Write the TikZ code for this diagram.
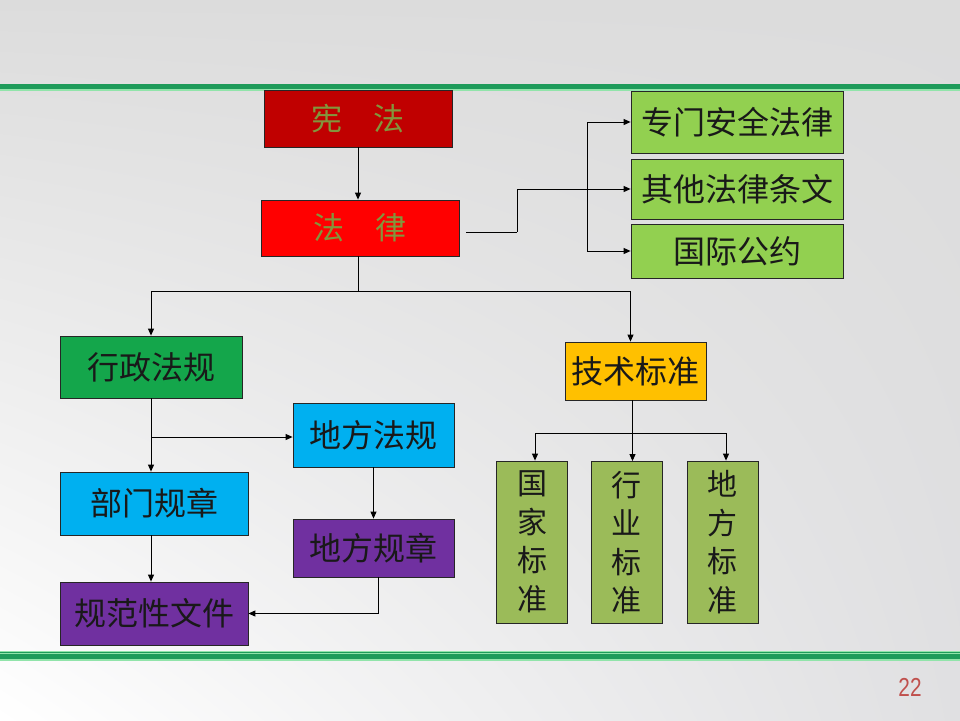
\documentclass[tikz,border=0pt]{standalone}
\usepackage{fontspec}
\newfontfamily\cjk{Noto Sans CJK SC}
\setmainfont{Liberation Sans}
\usetikzlibrary{arrows.meta,calc,shadings}
\definecolor{darkred}{RGB}{192,0,0}
\definecolor{olivetxt}{RGB}{130,150,60}
\definecolor{lgreen}{RGB}{146,208,80}
\definecolor{mgreen}{RGB}{20,166,75}
\definecolor{orng}{RGB}{255,192,0}
\definecolor{cyanb}{RGB}{0,176,240}
\definecolor{purp}{RGB}{112,48,160}
\definecolor{olgreen}{RGB}{155,187,89}
\definecolor{bandgreen}{RGB}{30,155,90}
\definecolor{bandlight}{RGB}{145,228,170}
\definecolor{numred}{RGB}{192,80,77}
\definecolor{bgA}{RGB}{220,220,220}
\definecolor{bgB}{RGB}{224,224,226}
\tikzset{
  box/.style={draw=black!85, line width=0.8pt, inner sep=0pt, anchor=center,
    font=\cjk\fontsize{32}{38}\selectfont, text=black!90},
  vbox/.style={box, align=center, minimum width=71pt, minimum height=162pt,
    fill=olgreen, font=\cjk\fontsize{30}{38.5}\selectfont},
  arr/.style={line width=0.9pt, draw=black, -{Triangle[length=7pt,width=6pt]}},
  ln/.style={line width=0.9pt, draw=black},
}
\begin{document}
\begin{tikzpicture}[x=1pt,y=-1pt]
\useasboundingbox (0,0) rectangle (960,720);
% background
\shade[upper left=bgA, upper right=bgA, lower left=white, lower right=bgB] (0,0) rectangle (960,720);
% bands
\fill[bandgreen] (0,84) rectangle (960,89);
\fill[bandlight] (0,89) rectangle (960,91);
\fill[bandlight] (0,650.5) rectangle (960,653.5);
\fill[bandgreen] (0,651.5) rectangle (960,652.5);
\fill[bandgreen] (0,654) rectangle (960,659);
\fill[bandlight] (0,659) rectangle (960,660.5);
% nodes
\node[box, fill=darkred, text=olivetxt, minimum width=188pt, minimum height=57pt, font=\cjk\fontsize{31}{36}\selectfont] (xf) at (358,118.5) {宪　法};
\node[box, fill=red, text=olivetxt, minimum width=198pt, minimum height=56pt, font=\cjk\fontsize{31}{36}\selectfont] (fl) at (360,228) {法　律};
\node[box, fill=lgreen, minimum width=212pt, minimum height=62pt] (zm) at (737,122) {专门安全法律};
\node[box, fill=lgreen, minimum width=212pt, minimum height=60pt] (qt) at (737,189) {其他法律条文};
\node[box, fill=lgreen, minimum width=212pt, minimum height=54pt] (gj) at (737,251) {国际公约};
\node[box, fill=mgreen, minimum width=182pt, minimum height=62pt] (xz) at (151,367) {行政法规};
\node[box, fill=orng, minimum width=141pt, minimum height=58pt] (js) at (635.5,371) {技术标准};
\node[box, fill=cyanb, minimum width=161pt, minimum height=64pt] (df) at (373.5,435) {地方法规};
\node[box, fill=cyanb, minimum width=188pt, minimum height=63pt] (bm) at (154,503.5) {部门规章};
\node[box, fill=purp, minimum width=161pt, minimum height=58pt] (dg) at (373.5,548) {地方规章};
\node[box, fill=purp, minimum width=188pt, minimum height=63pt] (gf) at (154,613.5) {规范性文件};
\node[vbox] (gb) at (532,542) {国\\家\\标\\准};
\node[vbox] (hy) at (626.5,542.5) {行\\业\\标\\准};
\node[vbox] (db) at (722.5,542) {地\\方\\标\\准};
\node[text=numred, font=\fontsize{26}{28}\selectfont] (pn) at (910,687) {\scalebox{0.8}[1]{22}};
% connectors
\draw[arr] (xf.south) -- (xf.south |- fl.north);
\coordinate (c1) at (466,232);
\coordinate (c2) at (517,232);
\draw[ln] (c1) -- (c2);
\draw[arr] (c2) |- (qt.west);
\coordinate (c3) at (587,122);
\draw[arr] (c3) -- (zm.west);
\draw[arr] (c3) |- (gj.west);
\coordinate (h) at (358,291);
\draw[ln] (fl.south -| h) -- (h);
\draw[arr] (h) -| (xz.north);
\draw[arr] (h) -| ([xshift=-5pt]js.north);
\coordinate (c4) at (151,437);
\draw[arr] (xz.south) -- (xz.south |- bm.north);
\draw[arr] (c4) -- (c4 -| df.west);
\draw[arr] (df.south) -- (dg.north);
\draw[arr] ([xshift=-3pt]bm.south) -- ([xshift=-3pt]bm.south |- gf.north);
\draw[arr] ([xshift=5pt]dg.south) |- (gf.east);
\coordinate (c5) at (535,433);
\coordinate (c6) at (726,433);
\draw[arr] ([xshift=-3pt]js.south) -- ([xshift=-3pt]js.south |- hy.north);
\draw[ln] (c5) -- (c6);
\draw[arr] (c5) -- (c5 |- gb.north);
\draw[arr] (c6) -- (c6 |- db.north);
\end{tikzpicture}
\end{document}
